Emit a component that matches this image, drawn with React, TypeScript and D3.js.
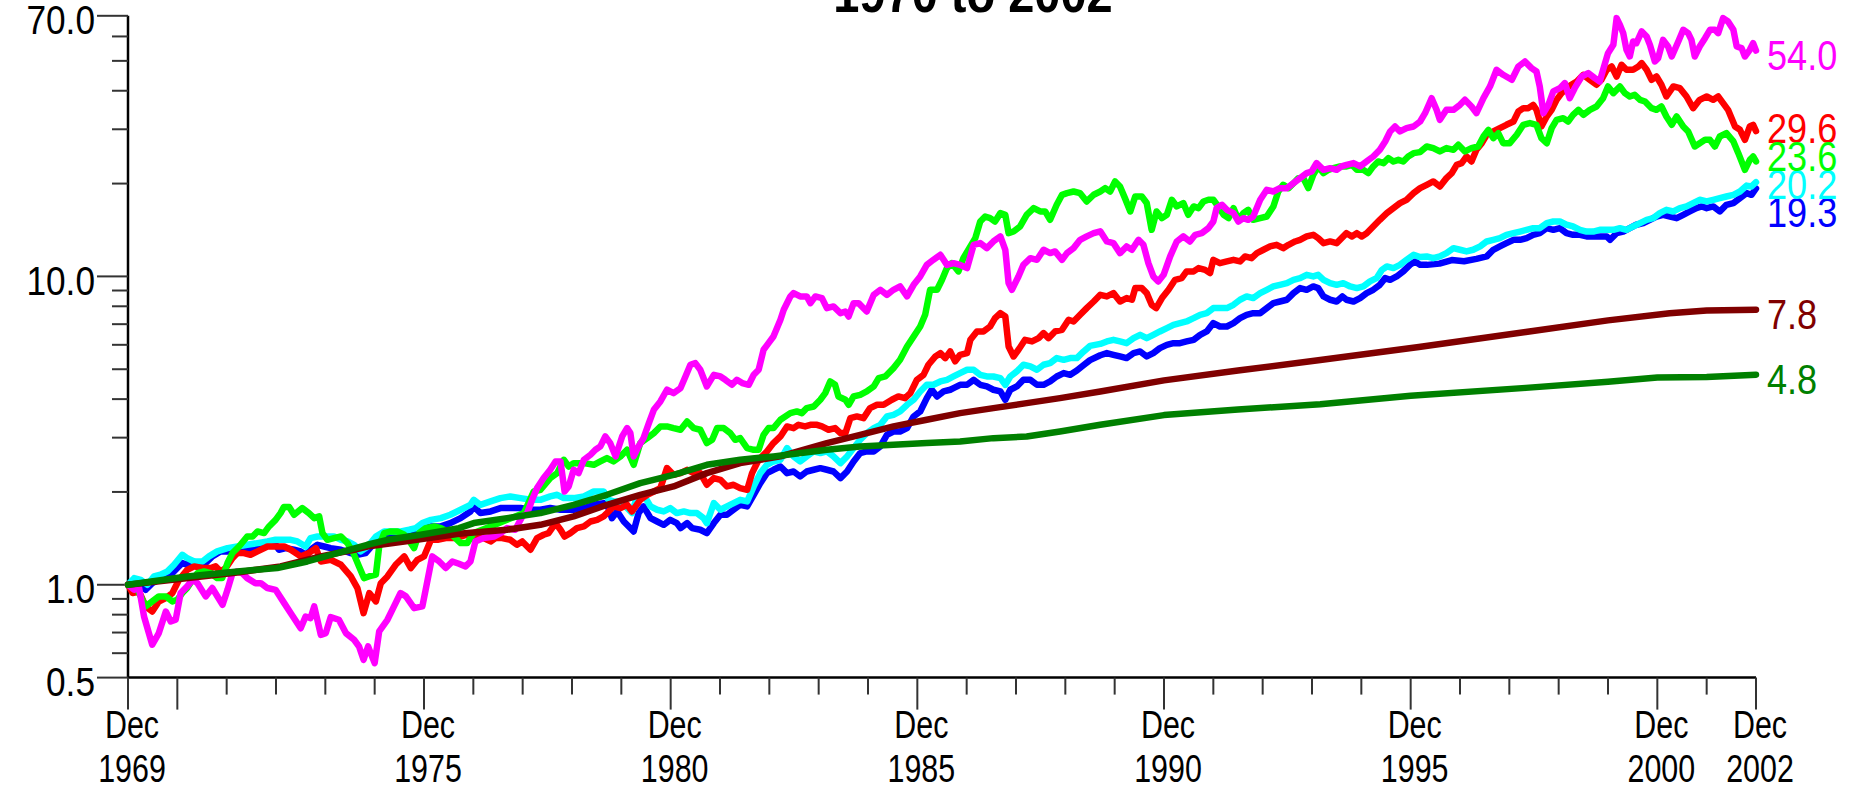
import React from "react";
import * as d3 from "d3";

// Growth of $1 invested at the end of December 1969, log scale.
// Each point is [months since Dec 1969, value].

const TITLE = "1970 to 2002";
const TOTAL_MONTHS = 396;

const Y_MAJOR = [0.5, 1, 10, 70];
const Y_MINOR = [0.6, 0.7, 0.8, 0.9, 2, 3, 4, 5, 6, 7, 8, 9, 20, 30, 40, 50, 60];
const X_LABELS: [number, string, string][] = [
  [0, "Dec", "1969"],
  [72, "Dec", "1975"],
  [132, "Dec", "1980"],
  [192, "Dec", "1985"],
  [252, "Dec", "1990"],
  [312, "Dec", "1995"],
  [372, "Dec", "2000"],
  [396, "Dec", "2002"],
];
const X_LONG_UNLABELED = [12];

const MAGENTA: [number, number][] = [
  [0, 1], [1.5, 0.963], [2.7, 0.976], [3.9, 0.789], [5.9, 0.639], [7.5, 0.697], [9.2, 0.819], [10.4, 0.76], [11.6, 0.77],
  [12.8, 0.94], [14.4, 0.988], [15.7, 1.038], [16.9, 1.012], [18.9, 0.917], [20.5, 0.976], [23, 0.861], [24.2, 0.963],
  [25.4, 1.09], [26.6, 1.105], [27.8, 1.091], [29, 1.051], [31, 1.012], [32.3, 1.012], [33.9, 0.976], [35.9, 0.963],
  [38, 0.872], [39.6, 0.809], [42, 0.723], [43.2, 0.789], [44.4, 0.78], [45.3, 0.851], [46.9, 0.688], [48.1, 0.697],
  [49.3, 0.785], [51.3, 0.77], [53, 0.697], [55, 0.663], [56.2, 0.631], [57.3, 0.571], [58.4, 0.631], [60, 0.557],
  [61.1, 0.706], [63.1, 0.77], [64.7, 0.851], [66.3, 0.94], [67.6, 0.917], [69.6, 0.84], [71.6, 0.851], [72.4, 0.963],
  [74, 1.236], [75.7, 1.19], [77.3, 1.133], [78.9, 1.19], [80.5, 1.17], [82.1, 1.147], [83.3, 1.19], [84.5, 1.382],
  [86.5, 1.417], [89, 1.434], [90.6, 1.471], [92.2, 1.527], [94.2, 1.508], [95.9, 1.666], [97.1, 1.708], [98.3, 1.886],
  [99.5, 2.058], [101.1, 2.218], [102.7, 2.36], [104, 2.511], [105.2, 2.511], [106.2, 2.007], [107.2, 2.084], [108.4, 2.36],
  [109.6, 2.302], [110.9, 2.543], [112.5, 2.64], [113.7, 2.74], [114.9, 2.81], [116.1, 3.027], [117.3, 2.88], [118.6, 2.608],
  [120.2, 3.027], [121.4, 3.221], [122.2, 3.103], [123, 2.608], [124.2, 2.81], [125.4, 2.989], [126.7, 3.344], [127.9, 3.694],
  [129.5, 3.931], [131.1, 4.29], [132.7, 4.183], [134.4, 4.343], [135.6, 4.737], [136.8, 5.17], [138, 5.235], [139.2, 4.98],
  [140.8, 4.397], [142.5, 4.796], [144.1, 4.737], [145.3, 4.621], [146.9, 4.452], [148.1, 4.621], [149.4, 4.508], [151, 4.452],
  [152.2, 4.796], [153.4, 4.98], [154.6, 5.781], [155.8, 6.076], [157, 6.386], [158.7, 7.233], [159.5, 7.794], [161.1, 8.61],
  [161.9, 8.826], [163.5, 8.61], [165.1, 8.61], [166, 8.19], [167.2, 8.61], [168.8, 8.504], [170, 7.892], [171.6, 7.991],
  [173.3, 7.601], [174.5, 7.697], [175.3, 7.415], [176.5, 8.19], [177.7, 8.19], [179.7, 7.697], [181.4, 8.717], [183, 9.049],
  [184.6, 8.717], [186.2, 9.049], [187.8, 9.277], [189.5, 8.61], [191.1, 9.393], [192.7, 9.996], [194.3, 10.9], [195.9, 11.32],
  [197.6, 11.75], [199.2, 10.9], [200.8, 11.04], [202.4, 10.9], [204.1, 10.64], [205.7, 12.66], [207.3, 12.82], [208.9, 12.35],
  [210.5, 12.98], [212.2, 13.48], [213.4, 12.2], [214.2, 9.51], [215, 9.049], [216.6, 9.996], [217.8, 10.9], [219.5, 11.46],
  [221.1, 11.32], [222.7, 12.2], [224.3, 11.9], [225.5, 12.05], [227.2, 11.32], [228.4, 11.9], [230, 12.35], [231.6, 13.14],
  [233.2, 13.48], [234.9, 13.81], [236.5, 14.0], [238.1, 12.98], [239.7, 12.82], [241.3, 11.9], [242.9, 12.51], [244.2, 12.2],
  [245.8, 13.14], [247, 12.66], [248.2, 11.04], [249.4, 9.996], [250.6, 9.63], [251.9, 10.12], [253.5, 11.61], [255.1, 12.98],
  [256.7, 13.48], [258.3, 12.98], [259.6, 13.64], [261.2, 13.81], [262.8, 14.34], [264, 15.07], [264.8, 16.65], [266.1, 17.07],
  [267.3, 16.44], [268.9, 16.04], [270.1, 15.07], [271.3, 15.45], [272.5, 15.26], [273.7, 15.64], [275.4, 17.72], [277, 19.09],
  [278.6, 18.85], [280.2, 19.33], [281.9, 19.33], [283.5, 20.06], [285.1, 20.83], [286.7, 21.62], [287.9, 21.89], [289.1, 23.3],
  [290.8, 22.16], [292.4, 22.44], [294, 22.16], [295.2, 22.73], [296.4, 23.01], [298.1, 23.3], [299.7, 22.73], [301.3, 23.59],
  [302.9, 24.48], [304.5, 25.73], [305.8, 27.39], [307, 29.51], [308.2, 30.63], [309.4, 29.51], [311, 30.26], [312.7, 30.63],
  [314.3, 31.8], [315.5, 33.83], [317.1, 37.84], [318.3, 34.69], [319.1, 32.19], [320.7, 34.69], [322.4, 34.69], [324, 36.01],
  [325.2, 37.38], [326.8, 35.56], [328, 33.83], [329.7, 37.84], [331.3, 41.3], [332.9, 46.77], [334.5, 45.06], [336.6, 43.41],
  [338.2, 47.95], [339.8, 49.77], [341.4, 47.35], [342.6, 46.18], [343.4, 41.3], [344.3, 33.83], [345.5, 36.01], [346.7, 39.79],
  [348.3, 40.77], [349.5, 42.34], [350.7, 37.84], [351.9, 40.77], [353.6, 44.49], [355.2, 45.62], [356.8, 43.95], [358, 42.87],
  [358.8, 46.77], [360, 52.97], [361.3, 56.36], [362.1, 68.79], [362.9, 65.44], [363.7, 61.5], [364.5, 54.3], [365.3, 51.67],
  [366.1, 57.79], [366.9, 57.07], [368.2, 62.27], [369.4, 59.98], [370.2, 56.36], [371.4, 49.77], [372.2, 51.03], [373.4, 58.51],
  [374.6, 55.67], [375.5, 51.67], [377.1, 57.79], [378.3, 63.05], [379.5, 61.5], [380.3, 58.51], [381.1, 51.67], [382.3, 55.67],
  [383.6, 59.24], [384.8, 63.05], [386, 63.05], [386.8, 61.5], [388, 68.79], [389.2, 67.08], [390.5, 63.05], [391.3, 55.67],
  [392.5, 54.98], [393.3, 51.67], [394.5, 54.3], [395.3, 57.07], [396, 54.0],
];

const RED: [number, number][] = [
  [0, 1], [1.1, 0.94], [2.7, 0.951], [4.3, 0.851], [5.9, 0.819], [7.5, 0.883], [9.2, 0.905], [10.8, 0.94], [12.4, 1.038],
  [14.4, 1.118], [16.1, 1.147], [18.1, 1.133], [20.1, 1.133], [21.3, 1.147], [22.5, 1.105], [23.8, 1.133], [25.4, 1.22],
  [26.6, 1.267], [28.2, 1.267], [29.8, 1.251], [31.5, 1.283], [33.9, 1.331], [35.9, 1.331], [38, 1.331], [39.6, 1.299],
  [42, 1.236], [44, 1.267], [45.7, 1.315], [46.9, 1.19], [49.3, 1.205], [51.8, 1.161], [54.2, 1.064], [55.8, 0.976],
  [57.3, 0.809], [58.7, 0.94], [60.3, 0.883], [61.5, 1.012], [63.1, 1.064], [65.1, 1.161], [67.2, 1.236], [68.8, 1.133],
  [70.4, 1.205], [72, 1.236], [73.7, 1.399], [75.3, 1.399], [77.3, 1.417], [79.2, 1.417], [80.9, 1.434], [82.5, 1.453],
  [84.1, 1.417], [86.5, 1.417], [88.2, 1.382], [89.4, 1.417], [91, 1.417], [93, 1.399], [94.6, 1.348], [95.9, 1.382],
  [97.9, 1.299], [99.5, 1.417], [101.1, 1.453], [102.3, 1.471], [104, 1.585], [105.2, 1.508], [106.2, 1.434], [107.6, 1.471],
  [109.2, 1.527], [110.9, 1.546], [112.5, 1.604], [114.1, 1.624], [115.7, 1.666], [116.9, 1.729], [118.1, 1.795], [119.8, 1.773],
  [121.4, 1.817], [122.6, 1.729], [124.6, 1.886], [126.3, 1.958], [127.9, 2.007], [129.5, 2.058], [131.1, 2.389], [132.7, 2.273],
  [134.4, 2.302], [136, 2.36], [137.6, 2.302], [139.2, 2.302], [140.8, 2.11], [142.5, 2.218], [144.1, 2.19], [145.7, 2.084],
  [147.3, 2.11], [148.9, 2.058], [150.6, 2.032], [151.8, 2.302], [153.4, 2.543], [155.4, 2.706], [157, 2.88], [158.7, 3.027],
  [160.3, 3.262], [161.9, 3.221], [163.1, 3.302], [164.7, 3.262], [166, 3.302], [167.6, 3.302], [168.8, 3.262], [170.4, 3.182],
  [172, 3.221], [173.3, 3.103], [174.5, 3.103], [175.7, 3.47], [177.3, 3.514], [178.9, 3.47], [180.5, 3.74], [182.2, 3.834],
  [183.8, 3.834], [185.8, 3.981], [187.4, 4.08], [189, 4.03], [190.3, 4.183], [191.9, 4.621], [193.5, 4.796], [194.7, 5.17],
  [196.4, 5.5], [197.6, 5.639], [198.8, 5.433], [200, 5.709], [201.2, 5.301], [202.4, 5.569], [204.1, 5.639], [204.9, 6.229],
  [206.5, 6.63], [208.1, 6.63], [209.7, 6.88], [210.9, 7.322], [212.2, 7.601], [213.4, 7.415], [214.2, 5.926], [215.4, 5.5],
  [216.6, 5.781], [218.2, 6.229], [219.9, 6.152], [221.5, 6.306], [222.7, 6.546], [223.9, 6.306], [225.5, 6.63], [227.2, 6.712],
  [228.8, 7.233], [230, 7.143], [231.6, 7.508], [233.2, 7.892], [234.9, 8.292], [236.5, 8.717], [238.1, 8.61], [239.7, 8.826],
  [241.3, 8.292], [242.9, 8.504], [244.2, 8.4], [245, 9.162], [246.6, 9.162], [247.8, 8.826], [249, 8.09], [250.1, 7.892],
  [251.5, 8.504], [253.1, 9.049], [254.7, 9.75], [256.3, 9.87], [257.5, 10.38], [259.2, 10.38], [260.4, 10.64], [262, 10.5],
  [263.2, 10.25], [264, 11.32], [265.6, 11.04], [267.3, 11.18], [268.9, 11.32], [270.5, 11.18], [271.7, 11.61], [273.3, 11.46],
  [274.6, 11.9], [276.2, 12.2], [277.8, 12.51], [279.4, 12.66], [281, 12.35], [282.3, 12.66], [283.9, 12.98], [285.1, 13.14],
  [286.7, 13.48], [288.3, 13.64], [289.5, 13.31], [290.8, 12.82], [292.4, 12.98], [294, 12.82], [295.2, 13.31], [296.4, 13.81],
  [297.7, 13.48], [298.9, 13.81], [300.1, 13.48], [301.3, 13.81], [302.9, 14.52], [304.5, 15.26], [306.2, 16.04], [307.8, 16.65],
  [309.4, 17.29], [311, 17.72], [312.7, 18.62], [314.3, 19.33], [315.9, 19.82], [317.5, 20.32], [319.1, 19.57], [320.7, 20.83],
  [322, 21.62], [323.2, 23.01], [324.4, 23.3], [325.6, 24.48], [326.8, 23.59], [328, 25.73], [329.3, 27.04], [330.5, 28.79],
  [332.1, 29.51], [333.7, 30.26], [335.3, 31.02], [337, 31.8], [338.2, 34.26], [339.4, 35.12], [340.6, 35.12], [341.8, 36.01],
  [342.6, 34.69], [343.8, 30.63], [345.1, 33.01], [346.3, 34.69], [347.5, 37.38], [348.7, 39.29], [349.9, 40.77], [351.1, 41.82],
  [352.4, 42.87], [354, 45.06], [355.6, 43.41], [357.2, 41.82], [358.4, 43.41], [359.7, 46.77], [360.9, 47.95], [362.1, 44.49],
  [363.3, 48.55], [364.5, 46.77], [366.1, 46.77], [367.4, 47.95], [368.2, 49.16], [369.4, 46.77], [370.6, 43.41], [371.8, 44.49],
  [373, 41.82], [374.2, 38.32], [375.9, 41.3], [377.5, 40.77], [379.1, 38.32], [380.7, 35.12], [382.3, 37.38], [384, 38.32],
  [385.6, 37.38], [386.8, 38.32], [388, 36.46], [389.2, 34.69], [390.9, 30.63], [392.1, 29.88], [393.3, 27.72], [394.5, 30.63],
  [395.3, 31.02], [396, 29.6],
];

const GREEN: [number, number][] = [
  [0, 1], [2.3, 0.963], [4.3, 0.851], [5.9, 0.883], [7.5, 0.917], [9.2, 0.917], [10.8, 0.883], [12, 0.894], [13.2, 0.94],
  [14.4, 0.976], [15.7, 1.038], [16.9, 1.091], [18.5, 1.105], [20.1, 1.091], [21.7, 1.051], [22.9, 1.051], [24.2, 1.176],
  [25.4, 1.267], [27, 1.331], [29, 1.434], [30.3, 1.434], [31.5, 1.489], [33.1, 1.471], [34.3, 1.546], [35.9, 1.624],
  [37.1, 1.708], [37.9, 1.786], [39.2, 1.786], [40.4, 1.687], [42.4, 1.773], [44, 1.708], [45.3, 1.645], [46.5, 1.666],
  [47.3, 1.471], [48.5, 1.399], [50.1, 1.417], [51.8, 1.434], [53.4, 1.365], [55, 1.251], [56.2, 1.147], [57.4, 1.051],
  [58.6, 1.064], [60.3, 1.078], [61.1, 1.331], [62.3, 1.471], [63.9, 1.489], [65.5, 1.489], [67.2, 1.453], [68.8, 1.365],
  [69.6, 1.315], [70.8, 1.471], [72.4, 1.527], [74.5, 1.546], [76.1, 1.527], [78.4, 1.471], [80.9, 1.365], [82.5, 1.365],
  [84.1, 1.471], [88.2, 1.546], [92.2, 1.624], [96.3, 1.708], [98.7, 2.007], [100.3, 2.032], [102.7, 2.218], [104.4, 2.302],
  [106, 2.543], [107.2, 2.419], [108.4, 2.48], [110.9, 2.48], [113.3, 2.449], [114.9, 2.511], [116.5, 2.575], [118.1, 2.511],
  [119.8, 2.608], [121.4, 2.74], [123, 2.449], [124.6, 2.88], [126.3, 2.989], [127.9, 3.103], [129.5, 3.262], [131.1, 3.262],
  [132.7, 3.221], [134.4, 3.182], [136, 3.385], [137.6, 3.221], [139.2, 3.182], [140.8, 2.88], [142.1, 2.952], [143.3, 3.221],
  [144.9, 3.221], [146.5, 3.103], [147.7, 2.952], [148.9, 2.989], [150.6, 2.775], [152.2, 2.74], [153.4, 2.74], [154.6, 3.064],
  [155.8, 3.221], [157, 3.221], [158.7, 3.428], [161.1, 3.603], [162.7, 3.648], [163.9, 3.603], [165.1, 3.74], [166.8, 3.786],
  [168.4, 3.981], [169.6, 4.183], [170.8, 4.564], [172, 4.452], [172.8, 4.08], [174.5, 3.981], [175.3, 3.834], [176.5, 4.08],
  [178.1, 4.131], [179.7, 4.236], [181.4, 4.397], [182.6, 4.679], [184.2, 4.737], [186.2, 5.042], [187.8, 5.364], [189.5, 5.926],
  [191.1, 6.386], [192.7, 6.88], [193.9, 7.508], [195.1, 9.049], [196.8, 9.049], [198, 9.75], [199.2, 10.64], [200.4, 11.04],
  [202, 10.38], [203.2, 11.46], [204.9, 12.51], [206.1, 13.31], [207.3, 15.07], [208.5, 15.64], [209.7, 15.45], [210.9, 15.07],
  [212.2, 16.04], [213.4, 15.84], [214.2, 13.81], [215.4, 13.98], [217, 14.52], [218.6, 15.84], [220.3, 16.65], [221.9, 16.24],
  [223.1, 16.24], [224.3, 15.26], [225.9, 17.07], [227.2, 18.39], [228.4, 18.62], [230, 18.85], [231.6, 18.62], [233.2, 17.5],
  [234.9, 18.4], [236.5, 18.85], [237.7, 19.33], [238.9, 18.85], [240.1, 20.32], [241.3, 19.57], [242.5, 17.94], [243.8, 16.24],
  [245, 18.16], [246.6, 18.16], [247.8, 17.29], [249, 14.16], [250.2, 16.24], [251.5, 15.45], [252.7, 15.84], [253.9, 17.72],
  [255.1, 16.86], [256.7, 17.29], [257.9, 15.84], [259.2, 16.86], [260.4, 16.65], [261.6, 17.5], [262.8, 17.72], [264, 17.72],
  [265.2, 16.86], [266.5, 15.84], [267.7, 15.45], [268.9, 16.65], [270.1, 15.26], [271.3, 16.04], [272.5, 16.44], [273.7, 15.26],
  [275.4, 15.45], [277, 15.64], [278.6, 16.86], [279.8, 18.85], [281, 19.82], [282.3, 19.33], [283.5, 20.06], [284.7, 20.83],
  [285.9, 20.83], [287.1, 19.33], [288.3, 21.35], [289.5, 22.73], [290.8, 21.62], [292, 22.16], [293.2, 22.44], [294.8, 22.73],
  [296.4, 22.73], [297.7, 23.01], [298.9, 22.16], [300.5, 22.16], [301.7, 21.62], [302.9, 22.73], [304.1, 23.59], [305.4, 23.3],
  [306.6, 24.18], [307.8, 23.59], [309, 23.88], [310.2, 23.59], [311.4, 24.48], [312.7, 25.1], [314.3, 25.3], [315.9, 26.38],
  [317.5, 26.06], [319.1, 25.42], [320.7, 26.06], [322.4, 25.73], [323.6, 26.72], [325.2, 25.42], [326.8, 26.06], [328.4, 26.38],
  [329.7, 28.43], [330.9, 29.88], [332.1, 28.07], [333.3, 29.14], [334.5, 27.04], [336.1, 27.04], [337.8, 28.79], [339.4, 31.02],
  [341, 31.41], [342.6, 31.02], [343.8, 28.07], [345.1, 27.04], [346.3, 30.26], [347.5, 32.19], [349.1, 32.6], [350.3, 31.8],
  [351.5, 33.42], [352.8, 34.69], [354, 33.42], [355.6, 34.69], [357.2, 35.56], [358.8, 37.84], [360, 41.3], [361.3, 39.29],
  [362.9, 41.3], [364.1, 39.29], [365.3, 38.32], [366.5, 38.8], [367.8, 37.38], [369, 36.92], [370.6, 35.12], [371.8, 34.69],
  [373, 35.56], [374.2, 33.01], [375.5, 31.02], [376.7, 33.01], [378.3, 30.63], [379.5, 29.51], [381.1, 26.38], [382.3, 27.04],
  [383.6, 27.72], [384.8, 27.72], [386, 26.38], [387.2, 28.43], [388.8, 29.14], [390.5, 27.39], [391.7, 25.1], [393.3, 22.16],
  [394.5, 23.88], [395.3, 24.48], [396, 23.6],
];

const BLUE: [number, number][] = [
  [0, 1], [1.5, 1.038], [3.1, 1.012], [4.3, 0.963], [5.9, 1.012], [7.5, 1.038], [9.2, 1.064], [10.4, 1.078], [12, 1.133],
  [13.2, 1.176], [14.4, 1.161], [15.7, 1.19], [17.3, 1.176], [18.9, 1.176], [20.5, 1.236], [22.5, 1.283], [24.6, 1.283],
  [26.6, 1.267], [29, 1.299], [31.5, 1.315], [33.9, 1.348], [35.9, 1.348], [36.7, 1.299], [38.4, 1.315], [40.4, 1.299],
  [42, 1.283], [43.2, 1.251], [44.9, 1.315], [46.1, 1.348], [47.7, 1.331], [49.3, 1.315], [51.8, 1.299], [54.2, 1.267],
  [55.8, 1.251], [57.8, 1.267], [59.9, 1.365], [61.5, 1.434], [63.1, 1.453], [65.5, 1.471], [68, 1.489], [70, 1.508],
  [71.6, 1.527], [73.7, 1.546], [76.1, 1.546], [78.4, 1.585], [80.9, 1.645], [83.3, 1.729], [84.1, 1.795], [85.7, 1.708],
  [88.2, 1.729], [90.6, 1.773], [93, 1.773], [95.5, 1.773], [97.9, 1.751], [100.3, 1.751], [102.7, 1.773], [105.2, 1.751],
  [108.4, 1.751], [110.9, 1.773], [113.3, 1.817], [115.7, 1.84], [116.9, 1.773], [117.7, 1.645], [119, 1.729], [120.6, 1.604],
  [121.8, 1.546], [123, 1.489], [124.2, 1.708], [125.4, 1.795], [127.1, 1.645], [128.7, 1.604], [130.3, 1.565], [131.9, 1.624],
  [133.5, 1.585], [134.4, 1.527], [136, 1.585], [137.2, 1.527], [139.2, 1.508], [140.8, 1.471], [142.5, 1.585], [144.1, 1.687],
  [145.7, 1.687], [147.3, 1.751], [148.9, 1.817], [150.6, 1.795], [152.2, 1.958], [153.8, 2.136], [155.4, 2.302], [157, 2.36],
  [158.7, 2.419], [160.3, 2.302], [161.9, 2.33], [163.5, 2.245], [165.1, 2.33], [166.8, 2.36], [168.4, 2.389], [170, 2.36],
  [171.6, 2.33], [173.3, 2.218], [174.9, 2.33], [176.5, 2.511], [178.1, 2.673], [179.7, 2.706], [181.4, 2.706], [183, 2.81],
  [184.6, 3.064], [186.2, 3.141], [187.8, 3.141], [189.5, 3.221], [191.1, 3.514], [192.7, 3.648], [194.3, 4.03], [195.5, 4.29],
  [196.8, 4.08], [198.4, 4.236], [200, 4.29], [200.8, 4.343], [202.4, 4.452], [204.1, 4.452], [205.7, 4.621], [207.3, 4.452],
  [208.9, 4.397], [210.5, 4.29], [212.2, 4.236], [213.4, 3.981], [214.6, 4.29], [216.2, 4.397], [217.8, 4.621], [219.5, 4.621],
  [221.1, 4.452], [222.7, 4.452], [224.3, 4.564], [225.9, 4.737], [227.6, 4.857], [229.2, 4.796], [230.8, 4.95], [232.4, 5.15],
  [234, 5.35], [236.5, 5.55], [238.1, 5.639], [239.7, 5.569], [241.3, 5.5], [242.9, 5.433], [244.6, 5.639], [246.2, 5.709],
  [247.8, 5.5], [249.4, 5.639], [251, 5.853], [252.7, 6.0], [254.3, 6.076], [255.9, 6.076], [257.5, 6.152], [259.2, 6.229],
  [260.8, 6.466], [262.4, 6.63], [264, 7.056], [265.6, 6.88], [267.3, 6.88], [268.9, 7.056], [270.5, 7.322], [272.1, 7.508],
  [273.7, 7.601], [275.4, 7.601], [277, 7.892], [278.6, 8.19], [280.2, 8.292], [281.9, 8.4], [283.5, 8.826], [285.1, 9.162],
  [286.7, 9.049], [288.3, 9.277], [289.5, 9.162], [290.8, 8.61], [292.4, 8.4], [294, 8.292], [295.4, 8.61], [296.4, 8.4],
  [298.1, 8.292], [299.7, 8.504], [301.3, 8.826], [302.9, 9.049], [304.5, 9.393], [305.8, 9.87], [307, 9.75], [308.6, 9.996],
  [310.2, 10.38], [311.8, 10.9], [313.1, 11.18], [314.3, 10.9], [316, 10.9], [319, 11.0], [322, 11.3], [325, 11.2],
  [328, 11.4], [330.5, 11.61], [332.1, 12.2], [333.7, 12.51], [335.3, 12.82], [337, 13.14], [338.6, 13.14], [340.2, 13.31],
  [341.8, 13.64], [343.4, 13.81], [345.1, 14.34], [346.7, 14.16], [348.3, 14.34], [349.9, 13.81], [351.5, 13.64], [353.2, 13.64],
  [354.8, 13.48], [356.4, 13.48], [358, 13.48], [359.7, 13.48], [360.5, 13.14], [362.1, 13.81], [363.7, 13.98], [365.3, 14.34],
  [366.9, 14.71], [368.6, 14.89], [370.2, 15.26], [371.8, 15.64], [373.4, 15.84], [375.1, 15.64], [376.7, 15.45], [378.3, 15.84],
  [379.9, 16.24], [381.5, 16.65], [382.8, 16.86], [384, 16.65], [385.6, 16.86], [387.2, 16.24], [388.8, 17.07], [390.5, 17.29],
  [392.1, 17.94], [393.7, 18.62], [394.9, 18.39], [396, 19.3],
];

const CYAN: [number, number][] = [
  [0, 1], [1.5, 1.051], [3.1, 1.038], [4.7, 1], [6.3, 1.064], [7.9, 1.078], [9.6, 1.105], [11.2, 1.161], [13.2, 1.251],
  [14.4, 1.22], [16.1, 1.19], [18.1, 1.19], [19.7, 1.236], [21.7, 1.283], [24.2, 1.315], [26.6, 1.331], [29, 1.348],
  [31.5, 1.365], [33.9, 1.382], [35.9, 1.399], [37.9, 1.399], [39.6, 1.399], [41.2, 1.382], [43.2, 1.331], [44.4, 1.417],
  [46.1, 1.434], [48.1, 1.434], [50.1, 1.434], [51.8, 1.399], [53.4, 1.382], [55, 1.348], [56.6, 1.283], [58.3, 1.331],
  [60.3, 1.434], [62.3, 1.489], [64.3, 1.489], [66.4, 1.489], [68.4, 1.508], [70, 1.527], [71.6, 1.585], [73.7, 1.624],
  [76.1, 1.645], [78.4, 1.687], [80.9, 1.751], [83.3, 1.817], [84.1, 1.886], [85.7, 1.817], [88.2, 1.863], [90.6, 1.91],
  [93, 1.934], [95.5, 1.91], [97.9, 1.886], [100.3, 1.886], [102.7, 1.934], [104.4, 1.958], [106, 1.91], [108.4, 1.91],
  [110.9, 1.934], [113.3, 2.007], [115.7, 2.007], [116.9, 1.886], [118.1, 1.863], [119.8, 1.863], [121.4, 1.773], [122.6, 1.708],
  [123.8, 1.934], [125.4, 1.958], [127.1, 1.795], [128.7, 1.751], [130.3, 1.729], [131.9, 1.773], [133.5, 1.708], [135.2, 1.729],
  [136.8, 1.708], [138.4, 1.708], [140, 1.645], [140.8, 1.585], [142.5, 1.84], [144.1, 1.751], [145.7, 1.795], [147.3, 1.84],
  [148.9, 1.886], [150.6, 1.863], [152.2, 2.084], [153.8, 2.302], [155.4, 2.449], [157, 2.511], [158.7, 2.543], [160.3, 2.775],
  [161.9, 2.608], [163.5, 2.511], [165.1, 2.608], [166.8, 2.706], [168.4, 2.673], [170, 2.706], [171.6, 2.608], [173.3, 2.48],
  [174.9, 2.608], [176.5, 2.775], [178.1, 2.952], [179.7, 3.103], [181.4, 3.221], [183, 3.302], [184.6, 3.514], [186.2, 3.558],
  [187.8, 3.648], [189.5, 3.834], [191.1, 3.981], [192.7, 4.236], [194.3, 4.452], [195.9, 4.452], [197.6, 4.564], [199.2, 4.621],
  [200.8, 4.737], [202.4, 4.857], [204.1, 4.98], [205.7, 4.98], [207.3, 4.796], [208.9, 4.737], [210.5, 4.737], [212.2, 4.679],
  [213.4, 4.452], [214.6, 4.737], [216.2, 4.918], [217.8, 5.17], [219.5, 5.105], [221.1, 4.98], [222.7, 5.17], [224.3, 5.235],
  [225.9, 5.433], [227.6, 5.364], [229.2, 5.433], [230.8, 5.433], [232.4, 5.7], [234, 5.95], [236.5, 6.04], [238.1, 6.152],
  [239.7, 6.229], [241.3, 6.152], [242.9, 6.076], [244.6, 6.306], [246.2, 6.466], [247.8, 6.306], [249.4, 6.466], [251, 6.63],
  [252.7, 6.797], [254.3, 6.967], [255.9, 7.056], [257.5, 7.143], [259.2, 7.322], [260.8, 7.508], [262.4, 7.601], [264, 7.892],
  [265.6, 7.892], [267.3, 7.892], [268.9, 8.09], [270.5, 8.4], [272.1, 8.61], [273.7, 8.504], [275.4, 8.826], [277, 9.049],
  [278.6, 9.277], [280.2, 9.393], [281.9, 9.51], [283.5, 9.75], [285.1, 9.87], [286.7, 10.12], [288.3, 9.996], [289.5, 10.12],
  [290.8, 9.75], [292.4, 9.51], [294, 9.393], [295.6, 9.51], [297.3, 9.277], [298.9, 9.162], [300.5, 9.277], [302.1, 9.63],
  [303.7, 9.87], [305, 10.5], [306.2, 10.77], [307.8, 10.64], [309.4, 10.9], [311, 11.32], [312.7, 11.75], [314.3, 11.55],
  [315.9, 11.61], [317.5, 11.46], [319.1, 11.61], [320.7, 11.9], [322.4, 12.35], [324, 12.2], [325.6, 12.05], [327.2, 12.2],
  [328.9, 12.51], [330.5, 12.98], [332.1, 13.14], [333.7, 13.31], [335.3, 13.64], [337, 13.81], [338.6, 13.98], [340.2, 14.16],
  [341.8, 14.34], [343.4, 14.34], [345.1, 14.89], [346.7, 15.07], [348.3, 15.07], [349.9, 14.71], [351.5, 14.52], [353.2, 14.16],
  [354.8, 13.98], [356.4, 13.98], [358, 14.16], [359.7, 14.16], [361.3, 14.16], [362.9, 14.34], [364.5, 14.16], [366.1, 14.52],
  [367.8, 14.89], [369.4, 15.26], [371, 15.45], [372.6, 16.04], [374.2, 16.44], [375.9, 16.24], [377.5, 16.65], [379.1, 16.86],
  [380.7, 17.29], [382.3, 17.72], [384, 17.5], [385.6, 17.72], [387.2, 17.94], [388.8, 18.16], [390.5, 18.39], [392.1, 18.85],
  [393.7, 19.7], [394.9, 19.57], [396, 20.2],
];

const MAROON: [number, number][] = [
  [0, 1], [26.6, 1.096], [37.1, 1.147], [46.9, 1.236], [55, 1.299], [58.2, 1.331], [67.2, 1.382], [80.5, 1.463],
  [92.2, 1.508], [100.3, 1.565], [108.4, 1.666], [116.5, 1.817], [124.6, 1.958], [132.7, 2.084], [140.8, 2.302],
  [148.9, 2.48], [158.7, 2.608], [170, 2.88], [178.1, 3.064], [186.2, 3.262], [194.3, 3.428], [202.4, 3.603],
  [210.5, 3.74], [218.6, 3.882], [226.7, 4.03], [236.5, 4.236], [252, 4.6], [270, 4.95], [290, 5.36], [314, 5.9],
  [340, 6.6], [360, 7.2], [375, 7.6], [384, 7.75], [396, 7.8],
];

const DARK_GREEN: [number, number][] = [
  [0, 1], [14.4, 1.064], [26.6, 1.105], [36.3, 1.133], [43.6, 1.19], [50.9, 1.267], [58.2, 1.348], [63.1, 1.399],
  [71.2, 1.453], [80.5, 1.527], [84.1, 1.585], [92.2, 1.645], [100.3, 1.708], [108.4, 1.817], [116.5, 1.958],
  [124.6, 2.136], [132.7, 2.273], [140.8, 2.449], [148.9, 2.543], [157, 2.608], [170, 2.74], [178.1, 2.81],
  [186.2, 2.844], [194.3, 2.88], [202.4, 2.916], [210.5, 2.989], [218.6, 3.027], [226.7, 3.141], [236.5, 3.302],
  [252, 3.55], [270, 3.7], [290, 3.85], [312, 4.1], [340, 4.35], [360, 4.55], [372, 4.7], [384, 4.72], [396, 4.8],
];

// Drawing order: later entries paint over earlier ones.
const SERIES = [
  { key: "blue", color: "#0000ff", data: BLUE },
  { key: "cyan", color: "#00ffff", data: CYAN },
  { key: "red", color: "#ff0000", data: RED },
  { key: "green", color: "#00ff00", data: GREEN },
  { key: "magenta", color: "#ff00ff", data: MAGENTA },
  { key: "maroon", color: "#800000", data: MAROON },
  { key: "darkgreen", color: "#008000", data: DARK_GREEN },
];

const W = 1860;
const H = 787;
const FONT = "'Liberation Sans', Arial, Helvetica, sans-serif";

const x = d3.scaleLinear().domain([0, TOTAL_MONTHS]).range([128, 1756]);
const y = d3.scaleLog().domain([0.5, 70]).range([677.6, 15.8]);

// Spread end-of-line labels vertically so they don't overlap.
function placeEndLabels(items: { key: string; ideal: number }[], gap: number) {
  const sorted = [...items].sort((a, b) => a.ideal - b.ideal);
  const clusters = sorted.map((d) => ({ members: [d], center: d.ideal }));
  let merged = true;
  while (merged) {
    merged = false;
    for (let i = 0; i < clusters.length - 1; i++) {
      const a = clusters[i];
      const b = clusters[i + 1];
      const aBottom = a.center + ((a.members.length - 1) * gap) / 2;
      const bTop = b.center - ((b.members.length - 1) * gap) / 2;
      if (bTop - aBottom < gap) {
        const members = [...a.members, ...b.members];
        const center = d3.mean(members, (m) => m.ideal) as number;
        clusters.splice(i, 2, { members, center });
        merged = true;
        break;
      }
    }
  }
  const out: Record<string, number> = {};
  clusters.forEach((c) => {
    const top = c.center - ((c.members.length - 1) * gap) / 2;
    c.members.forEach((m, i) => (out[m.key] = top + i * gap));
  });
  return out;
}

// Narrow text: glyphs drawn at full height, squeezed horizontally.
function NarrowText(props: {
  x: number;
  y: number;
  size: number;
  squeeze: number;
  anchor?: "start" | "middle" | "end";
  baseline?: string;
  fill?: string;
  weight?: string;
  children: React.ReactNode;
}) {
  const { x: tx, y: ty, size, squeeze, anchor = "start", baseline, fill = "#000", weight, children } = props;
  return (
    <text
      transform={`translate(${tx},${ty}) scale(${squeeze},1)`}
      textAnchor={anchor}
      dominantBaseline={baseline}
      fontSize={size}
      fontWeight={weight}
      fill={fill}
    >
      {children}
    </text>
  );
}

export default function App() {
  const line = d3
    .line<[number, number]>()
    .x((d) => x(d[0]))
    .y((d) => y(d[1]));

  const y0 = y(0.5);
  const ends = SERIES.map((s) => {
    const last = s.data[s.data.length - 1];
    return { key: s.key, color: s.color, value: last[1], ideal: y(last[1]) + 5 };
  });
  const labelY = placeEndLabels(ends, 28);

  const yearTicks = d3.range(0, TOTAL_MONTHS + 1, 12);
  const longTicks = new Set([...X_LABELS.map((d) => d[0]), ...X_LONG_UNLABELED]);

  return (
    <svg
      width={W}
      height={H}
      viewBox={`0 0 ${W} ${H}`}
      style={{ position: "absolute", left: 0, top: 0, background: "#fff" }}
      fontFamily={FONT}
    >
      <rect x={0} y={0} width={W} height={H} fill="#fff" />

      <NarrowText x={973} y={12} size={54} squeeze={0.87} anchor="middle" weight="bold">
        {TITLE}
      </NarrowText>

      {/* y axis */}
      <line x1={128} x2={128} y1={y(70)} y2={y0} stroke="#000" strokeWidth={2.5} />
      {Y_MINOR.map((v) => (
        <line key={"ym" + v} x1={112} x2={128} y1={y(v)} y2={y(v)} stroke="#333" strokeWidth={2} />
      ))}
      {Y_MAJOR.map((v) => (
        <g key={"yM" + v}>
          <line x1={97} x2={128} y1={y(v)} y2={y(v)} stroke="#333" strokeWidth={2} />
          <NarrowText x={95} y={y(v) + 4} size={41} squeeze={0.86} anchor="end" baseline="central">
            {v.toFixed(1)}
          </NarrowText>
        </g>
      ))}

      {/* x axis */}
      <line x1={x(0)} x2={x(TOTAL_MONTHS)} y1={y0} y2={y0} stroke="#000" strokeWidth={2.5} />
      {yearTicks.map((m) => (
        <line
          key={"xt" + m}
          x1={x(m)}
          x2={x(m)}
          y1={y0}
          y2={y0 + (longTicks.has(m) ? 32 : 17)}
          stroke="#333"
          strokeWidth={2}
        />
      ))}
      {X_LABELS.map(([m, l1, l2]) => (
        <g key={"xl" + m}>
          <NarrowText x={x(m) + 4} y={738} size={38} squeeze={0.8} anchor="middle">
            {l1}
          </NarrowText>
          <NarrowText x={x(m) + 4} y={782} size={38} squeeze={0.8} anchor="middle">
            {l2}
          </NarrowText>
        </g>
      ))}

      {/* series */}
      {SERIES.map((s) => (
        <path
          key={s.key}
          d={line(s.data) || ""}
          fill="none"
          stroke={s.color}
          strokeWidth={6.5}
          strokeLinejoin="round"
          strokeLinecap="round"
        />
      ))}

      {/* end values */}
      {ends.map((e) => (
        <NarrowText
          key={"end" + e.key}
          x={1767}
          y={labelY[e.key]}
          size={42}
          squeeze={0.86}
          baseline="central"
          fill={e.color}
        >
          {e.value.toFixed(1)}
        </NarrowText>
      ))}
    </svg>
  );
}
